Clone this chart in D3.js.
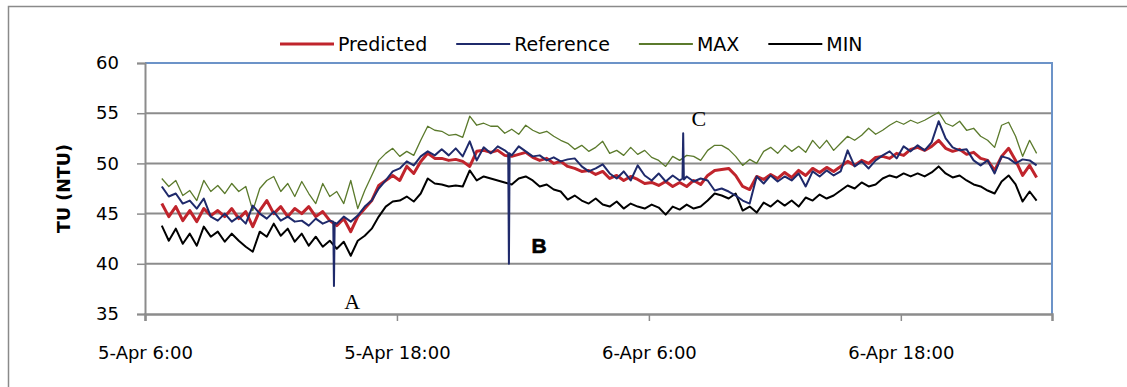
<!DOCTYPE html>
<html>
<head>
<meta charset="utf-8">
<script src="https://cdn.jsdelivr.net/npm/d3@7"></script>
<style>
  body { margin: 0; background: #fff; }
  svg { display: block; }
  text { font-family: "DejaVu Sans", sans-serif; fill: #000; }
</style>
</head>
<body>
<svg id="chart" width="1127" height="387"></svg>
<script>
// Turbidity readings, 20-minute samples starting 5-Apr 06:48
const sampleStart = "2013-04-05T06:48:00";
const sampleStepMinutes = 20;

const predicted = [
  46.0,44.7,45.7,44.3,45.3,44.2,45.5,44.8,45.3,44.7,45.5,44.5,45.2,43.7,45.3,46.3,45.0,45.7,44.7,45.5,
  45.0,45.7,44.7,45.2,44.3,43.8,44.5,43.2,44.7,45.5,46.3,47.8,48.3,48.8,48.3,49.7,49.0,50.2,51.0,50.5,
  50.5,50.3,50.4,50.2,49.7,51.2,51.3,51.1,51.3,50.8,50.7,50.9,51.1,50.6,50.3,50.5,50.0,50.2,49.7,49.5,
  49.2,49.3,48.9,49.2,48.5,48.8,48.3,48.7,48.4,48.0,48.1,47.8,48.2,47.7,48.1,47.7,48.3,47.9,48.8,49.3,
  49.4,49.5,48.8,47.7,47.4,48.7,48.4,48.9,48.5,49.1,48.6,49.3,48.8,49.5,49.1,49.6,49.2,49.7,50.2,49.8,
  50.3,50.0,50.6,50.7,50.5,51.0,50.8,51.4,51.6,51.3,51.7,52.3,51.5,51.2,51.4,50.9,51.1,50.5,50.3,49.3,
  50.7,51.5,50.3,48.8,49.8,48.6
];

const reference = [
  47.7,46.7,47.0,46.0,46.3,45.5,46.5,44.7,44.3,45.0,44.2,44.7,44.0,45.8,45.0,44.5,45.2,44.3,44.7,44.2,
  44.3,43.8,44.5,44.0,44.3,44.0,44.7,44.2,44.8,45.7,46.3,47.5,48.3,49.2,49.5,50.2,49.8,50.7,51.2,50.8,
  51.4,50.8,51.5,50.7,52.2,50.3,51.6,51.0,51.7,51.3,50.8,51.7,51.2,50.7,50.8,50.3,50.6,50.2,50.4,50.5,
  49.7,49.2,49.5,49.9,49.0,48.5,49.2,48.3,49.8,48.8,48.3,49.0,48.2,48.8,48.3,48.7,48.2,48.5,48.3,47.3,
  47.5,47.2,46.8,46.3,46.0,48.7,48.0,48.8,48.2,48.7,48.3,49.0,47.7,49.2,48.7,49.3,48.8,49.2,51.3,49.7,
  50.2,49.5,50.3,50.8,51.2,50.5,51.7,51.2,51.8,51.3,52.1,54.2,52.5,51.6,51.3,51.4,50.3,49.8,50.3,49.0,
  50.7,50.5,50.0,50.4,50.3,49.8
];

// Short excursions of the reference sensor (A, B, C)
const referenceSpikes = [
  ["2013-04-05T14:58:00", 44.2], ["2013-04-05T15:00:00", 37.8], ["2013-04-05T15:02:00", 44.1],
  ["2013-04-05T23:18:00", 51.0], ["2013-04-05T23:20:00", 40.0], ["2013-04-05T23:22:00", 51.0],
  ["2013-04-06T07:36:00", 48.5], ["2013-04-06T07:38:00", 53.0], ["2013-04-06T07:40:00", 48.4]
];

const maxValues = [
  48.5,47.7,48.3,46.8,47.3,46.3,48.3,47.2,47.8,47.0,48.0,47.2,47.7,45.3,47.5,48.3,48.7,47.2,48.0,46.7,
  48.2,47.0,46.0,48.0,46.7,47.2,46.0,48.3,45.5,47.3,48.8,50.3,51.0,51.5,50.7,51.2,50.8,52.3,53.7,53.3,
  53.2,52.8,52.9,52.6,54.7,53.8,54.0,53.7,53.7,53.0,53.4,52.9,53.8,53.3,53.0,53.2,52.7,52.3,52.0,51.4,
  51.8,51.2,51.6,52.2,51.0,51.3,50.8,51.6,50.9,51.3,50.6,50.3,49.7,50.7,50.3,50.8,50.7,50.3,51.3,51.8,
  51.8,51.4,50.7,49.8,50.4,50.0,51.2,51.6,51.0,51.8,51.2,51.7,51.1,52.3,51.5,52.3,51.3,52.0,52.7,52.3,
  52.8,53.5,52.9,53.3,53.8,54.2,53.9,54.3,54.0,54.3,54.7,55.1,54.0,53.7,54.2,53.3,53.5,52.7,52.3,51.6,
  53.8,54.1,52.7,50.7,52.3,51.0
];

const minValues = [
  43.8,42.3,43.5,42.0,43.0,41.8,43.7,42.7,43.2,42.2,43.0,42.3,41.7,41.2,43.2,42.7,44.0,42.8,43.5,42.2,
  43.0,41.8,42.7,41.7,42.3,41.5,42.2,40.8,42.3,42.8,43.5,44.7,45.7,46.2,46.3,46.7,46.2,47.0,48.5,48.0,
  47.9,47.7,47.8,47.7,49.3,48.3,48.7,48.5,48.3,48.1,47.9,48.5,48.7,48.3,47.7,47.9,47.4,47.2,46.4,46.8,
  46.3,46.0,46.5,45.9,45.7,46.2,45.5,46.0,45.7,45.5,45.9,45.6,44.9,45.7,45.4,45.9,45.5,45.7,46.3,47.0,
  46.8,46.5,47.0,45.3,45.7,45.1,46.1,45.7,46.3,45.8,46.3,45.7,46.6,46.3,46.9,46.5,46.8,47.3,47.8,47.5,
  48.1,47.7,47.9,48.5,48.8,48.6,49.0,48.7,49.0,48.7,49.1,49.7,49.0,48.6,48.8,48.3,47.9,47.7,47.3,47.0,
  48.2,48.8,47.9,46.2,47.2,46.3
];

const seriesNames = ["Predicted", "Reference", "MAX", "MIN"];
const seriesColors = ["#c0242c", "#1f2a6b", "#5b7a2c", "#000000"];
const seriesWidths = [3, 2, 1.3, 2];

const yTicks = [35, 40, 45, 50, 55, 60];
const xTickTimes = ["2013-04-05T06:00:00", "2013-04-05T18:00:00", "2013-04-06T06:00:00", "2013-04-06T18:00:00"];
const xDomain = ["2013-04-05T06:00:00", "2013-04-07T01:12:00"];

// Event markers: label, time, value
const markers = [
  ["A", "2013-04-05T15:52:00", 35.5],
  ["B", "2013-04-06T00:46:00", 41.1],
  ["C", "2013-04-06T08:23:00", 53.7]
];

const svg = d3.select("#chart");
const margin = { left: 145, right: 1127 - 1052, top: 63, bottom: 387 - 314 };
const W = 1127, H = 387;

const parse = s => new Date(s);
const x = d3.scaleTime().domain(xDomain.map(parse)).range([margin.left, W - margin.right]);
const y = d3.scaleLinear().domain([35, 60]).range([H - margin.bottom, margin.top]);

const t0 = parse(sampleStart).getTime();
const timeAt = i => new Date(t0 + i * sampleStepMinutes * 60000);
const toPoints = arr => arr.map((v, i) => ({ t: timeAt(i), v }));

const refPoints = toPoints(reference)
  .concat(referenceSpikes.map(([t, v]) => ({ t: parse(t), v })))
  .sort((a, b) => a.t - b.t);

const seriesData = [toPoints(predicted), refPoints, toPoints(maxValues), toPoints(minValues)];

// Outer chart frame
svg.append("path")
  .attr("d", `M8.5,${H + 5} V6.5 H${W + 5}`)
  .attr("fill", "none").attr("stroke", "#8a8a8a").attr("stroke-width", 1.5);

// Horizontal gridlines
svg.append("g")
  .selectAll("line")
  .data(yTicks.filter(d => d > 35 && d < 60))
  .join("line")
  .attr("x1", margin.left).attr("x2", W - margin.right)
  .attr("y1", d => y(d)).attr("y2", d => y(d))
  .attr("stroke", "#8c8c8c").attr("stroke-width", 2);

// Plot-area border (top and right)
svg.append("path")
  .attr("d", `M${margin.left},${y(60)} H${W - margin.right} V${y(35)}`)
  .attr("fill", "none").attr("stroke", "#6c93c8").attr("stroke-width", 2);

// Y axis
const yAxis = svg.append("g")
  .attr("transform", `translate(${margin.left},0)`)
  .call(d3.axisLeft(y).tickValues(yTicks).tickSize(8).tickPadding(18).tickFormat(d3.format("d")));
yAxis.select(".domain").attr("stroke", "#8c8c8c").attr("stroke-width", 2);
yAxis.selectAll(".tick line").attr("stroke", "#8c8c8c").attr("stroke-width", 1.5);
yAxis.selectAll(".tick text").style("font-family", "DejaVu Sans").style("font-size", "18px").attr("fill", "#000");

// X axis
const xAxis = svg.append("g")
  .attr("transform", `translate(0,${y(35)})`)
  .call(d3.axisBottom(x).tickValues(xTickTimes.map(parse)).tickSize(7).tickPadding(25)
    .tickFormat(d3.timeFormat("%-d-%b %-H:%M")));
xAxis.select(".domain").attr("stroke", "#8c8c8c").attr("stroke-width", 2.5);
xAxis.selectAll(".tick line").attr("stroke", "#8c8c8c").attr("stroke-width", 1.5);
xAxis.selectAll(".tick text").style("font-family", "DejaVu Sans").style("font-size", "18px").attr("fill", "#000");

// Y axis title
svg.append("text")
  .attr("transform", `translate(70,${(y(35) + y(60)) / 2}) rotate(-90)`)
  .attr("text-anchor", "middle")
  .style("font-weight", "bold").style("font-size", "17.5px")
  .text("TU (NTU)");

// Series lines (MAX, MIN underneath, then Predicted, Reference)
const line = d3.line().x(d => x(d.t)).y(d => y(d.v));
const drawOrder = [2, 3, 0, 1];
svg.append("g")
  .selectAll("path")
  .data(drawOrder)
  .join("path")
  .attr("d", k => line(seriesData[k]))
  .attr("fill", "none")
  .attr("stroke", k => seriesColors[k])
  .attr("stroke-width", k => seriesWidths[k])
  .attr("stroke-linejoin", "round");

// Legend
const legend = svg.append("g").attr("transform", "translate(280,44)");
let lx = 0;
seriesNames.forEach((name, k) => {
  legend.append("line")
    .attr("x1", lx).attr("x2", lx + 54).attr("y1", 0).attr("y2", 0)
    .attr("stroke", seriesColors[k]).attr("stroke-width", Math.max(seriesWidths[k], 2));
  const t = legend.append("text")
    .attr("x", lx + 58).attr("y", 7)
    .style("font-size", "19px")
    .text(name);
  lx += 58 + t.node().getComputedTextLength() + 29;
});

// Event markers
markers.forEach(([label, t, v]) => {
  const txt = svg.append("text")
    .attr("x", x(parse(t))).attr("y", y(v))
    .attr("text-anchor", "middle")
    .text(label);
  if (label === "B") {
    txt.style("font-family", "Liberation Sans Narrow, Liberation Sans, sans-serif")
      .style("font-weight", "bold").style("font-size", "21px")
      .attr("stroke", "#000").attr("stroke-width", 0.6);
  } else {
    txt.style("font-family", "Liberation Serif, serif").style("font-size", "22px");
  }
});
</script>
</body>
</html>
